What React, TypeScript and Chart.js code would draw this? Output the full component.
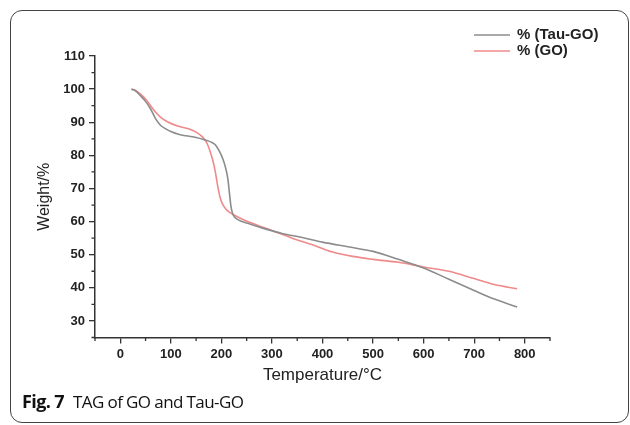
import React, { useEffect, useRef } from "react";
import { Chart, registerables } from "chart.js";

Chart.register(...registerables);

const tauTemps = [22, 30, 40, 50, 60, 70, 80, 90, 100, 115, 130, 150, 165, 180, 188, 194, 200, 205, 209, 213, 216, 219, 222, 226, 235, 250, 280, 320, 360, 400, 450, 500, 550, 600, 650, 700, 740, 785];
const tauValues = [100, 99.5, 98, 96.3, 94, 91, 89, 88, 87.2, 86.4, 85.9, 85.4, 84.8, 84, 83.2, 81.8, 80, 78, 75.8, 72.7, 68.5, 64.5, 62.5, 61.4, 60.4, 59.6, 58.1, 56.4, 55.2, 53.8, 52.4, 51, 48.6, 46, 42.6, 39.2, 36.6, 34.2];

const goTemps = [22, 30, 40, 50, 60, 70, 80, 95, 115, 135, 150, 163, 172, 178, 183, 188, 193, 198, 204, 212, 225, 245, 270, 300, 340, 380, 420, 460, 500, 550, 600, 650, 700, 740, 785];
const goValues = [100, 99.6, 98.5, 97, 95, 93, 91.5, 90, 88.8, 88, 87, 85.5, 83.5, 81, 78.5, 75, 70.5, 67, 64.8, 63.3, 62, 60.5, 59, 57.3, 55, 53, 50.8, 49.5, 48.6, 47.7, 46.3, 45, 42.8, 41, 39.7];

const seriesLabels = ["% (Tau-GO)", "% (GO)"];
const seriesColors = ["#8c8c8c", "#f08a8a"];
const xTickValues = [0, 100, 200, 300, 400, 500, 600, 700, 800];
const yTickValues = [30, 40, 50, 60, 70, 80, 90, 100, 110];

const minorTicks = {
  id: "minorTicks",
  afterDraw(chart: any) {
    const ctx = chart.ctx;
    const xs = chart.scales.x;
    const ys = chart.scales.y;
    ctx.save();
    ctx.strokeStyle = "#333";
    ctx.lineWidth = 1.3;
    ctx.beginPath();
    for (let v = -50; v <= 850; v += 100) {
      const px = xs.getPixelForValue(v);
      ctx.moveTo(px, ys.bottom);
      ctx.lineTo(px, ys.bottom + 3.5);
    }
    for (let v = 25; v <= 105; v += 10) {
      const py = ys.getPixelForValue(v);
      ctx.moveTo(xs.left, py);
      ctx.lineTo(xs.left - 3.5, py);
    }
    ctx.stroke();
    ctx.restore();
  },
};

const customLegend = {
  id: "customLegend",
  afterDraw(chart: any) {
    const ctx = chart.ctx;
    ctx.save();
    const rows = [35, 51];
    chart.data.datasets.forEach((ds: any, i: number) => {
      const y = rows[i];
      ctx.strokeStyle = ds.borderColor;
      ctx.lineWidth = 1.6;
      ctx.beginPath();
      ctx.moveTo(474, y);
      ctx.lineTo(510, y);
      ctx.stroke();
      ctx.fillStyle = "#222";
      ctx.font = "bold 15px 'Liberation Sans', Arial, sans-serif";
      ctx.textBaseline = "middle";
      ctx.textAlign = "left";
      ctx.fillText(ds.label, 517, y);
    });
    ctx.restore();
  },
};

export default function App() {
  const ref = useRef<HTMLCanvasElement | null>(null);

  useEffect(() => {
    document.body.style.margin = "0";
    const canvas = ref.current;
    if (!canvas) return;
    const tickFont = { family: "'Liberation Sans', Arial, sans-serif", size: 13, weight: "bold" as const };
    const chart = new Chart(canvas, {
      type: "line",
      data: {
        datasets: [
          {
            label: seriesLabels[0],
            data: tauTemps.map((t, i) => ({ x: t, y: tauValues[i] })),
            borderColor: seriesColors[0],
            borderWidth: 1.6,
            pointRadius: 0,
            cubicInterpolationMode: "monotone",
            fill: false,
          },
          {
            label: seriesLabels[1],
            data: goTemps.map((t, i) => ({ x: t, y: goValues[i] })),
            borderColor: seriesColors[1],
            borderWidth: 1.6,
            pointRadius: 0,
            cubicInterpolationMode: "monotone",
            fill: false,
          },
        ],
      },
      options: {
        animation: false,
        responsive: false,
        maintainAspectRatio: false,
        layout: { padding: { left: 10, right: 80, top: 56, bottom: 0 } },
        plugins: {
          legend: { display: false },
          tooltip: { enabled: false },
        },
        scales: {
          x: {
            type: "linear",
            min: -50,
            max: 850,
            afterFit(scale: any) {
              scale.height = 52.5;
            },
            afterBuildTicks(scale: any) {
              scale.ticks = xTickValues.map((v) => ({ value: v }));
            },
            ticks: { font: tickFont, color: "#222", padding: 3, maxRotation: 0, autoSkip: false },
            grid: { display: true, drawOnChartArea: false, drawTicks: true, tickLength: 6, color: "#333", lineWidth: 1.3 },
            border: { display: true, color: "#333", width: 1.5 },
            title: {
              display: true,
              text: "Temperature/°C",
              color: "#222",
              font: { family: "'Liberation Sans', Arial, sans-serif", size: 17 },
              padding: { top: 0, bottom: 4 },
            },
          },
          y: {
            type: "linear",
            min: 25,
            max: 110,
            afterFit(scale: any) {
              scale.width = 85;
            },
            afterBuildTicks(scale: any) {
              scale.ticks = yTickValues.map((v) => ({ value: v }));
            },
            ticks: { font: tickFont, color: "#222", padding: 4, autoSkip: false },
            grid: { display: true, drawOnChartArea: false, drawTicks: true, tickLength: 6, color: "#333", lineWidth: 1.3 },
            border: { display: true, color: "#333", width: 1.5 },
            title: {
              display: true,
              text: "Weight/%",
              color: "#222",
              font: { family: "'Liberation Sans', Arial, sans-serif", size: 16 },
              padding: { top: 25, bottom: 0 },
            },
          },
        },
      },
      plugins: [minorTicks, customLegend],
    });
    return () => chart.destroy();
  }, []);

  return (
    <div style={{ position: "relative", width: 630, height: 425, background: "#fff", overflow: "hidden" }}>
      <div
        style={{
          position: "absolute",
          left: 10,
          top: 10,
          width: 619,
          height: 413,
          border: "1px solid #444",
          borderRadius: 12,
          boxSizing: "border-box",
        }}
      />
      <canvas ref={ref} width={630} height={390} style={{ position: "absolute", left: 0, top: 0, width: 630, height: 390 }} />
      <div
        style={{
          position: "absolute",
          left: 22,
          top: 389,
          fontFamily: "'Open Sans', 'Noto Sans', sans-serif",
          fontSize: 17,
          color: "#111",
          whiteSpace: "nowrap",
          letterSpacing: "-0.6px",
        }}
      >
        <span style={{ fontWeight: 700, fontSize: 18 }}>Fig. 7</span>
        <span style={{ marginLeft: 9 }}>TAG of GO and Tau-GO</span>
      </div>
    </div>
  );
}
